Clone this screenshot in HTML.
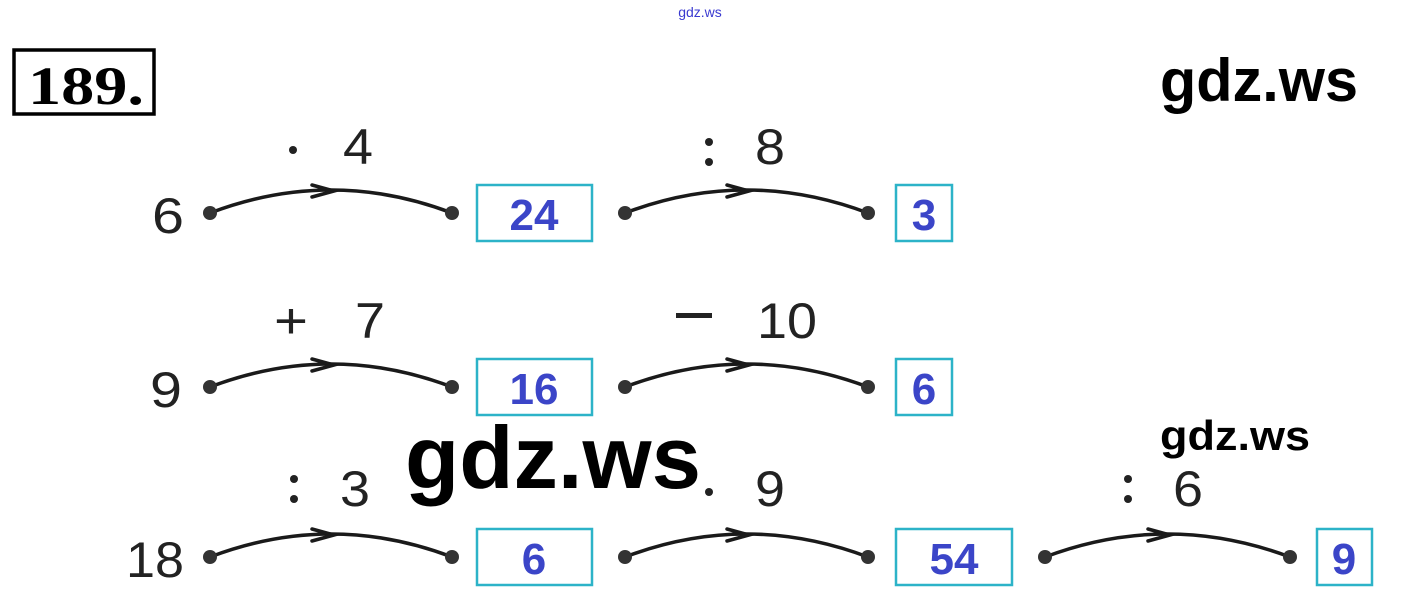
<!DOCTYPE html>
<html><head><meta charset="utf-8"><style>
html,body{margin:0;padding:0;background:#fff;}
body{width:1401px;height:607px;overflow:hidden;position:relative;}
svg{position:absolute;left:0;top:0;}
</style></head><body>
<svg width="1401" height="607" viewBox="0 0 1401 607" xmlns="http://www.w3.org/2000/svg">
<rect x="0" y="0" width="1401" height="607" fill="#fff"/>
<text x="700" y="17" font-family="Liberation Sans, sans-serif" font-size="14" fill="#3a3ad0" text-anchor="middle">gdz.ws</text>
<rect x="14" y="50" width="140" height="64" fill="#fff" stroke="#000" stroke-width="3.5"/>
<text x="28" y="104" font-family="Liberation Serif, serif" font-size="54" font-weight="bold" fill="#000" textLength="116" lengthAdjust="spacingAndGlyphs">189.</text>

<g font-family="Liberation Sans Narrow, Liberation Sans, sans-serif" font-size="50" fill="#222">
<text x="152" y="233" textLength="32" lengthAdjust="spacingAndGlyphs">6</text>
<circle cx="293" cy="150" r="4" fill="#222"/>
<text x="343" y="164" textLength="30" lengthAdjust="spacingAndGlyphs">4</text>
<circle cx="709" cy="142" r="4" fill="#222"/><circle cx="709" cy="162" r="4" fill="#222"/>
<text x="755" y="164" textLength="30" lengthAdjust="spacingAndGlyphs">8</text>
<text x="150" y="407" textLength="32" lengthAdjust="spacingAndGlyphs">9</text>
<text x="274" y="338" textLength="34" lengthAdjust="spacingAndGlyphs">+</text>
<text x="355" y="338" textLength="30" lengthAdjust="spacingAndGlyphs">7</text>
<rect x="676" y="313" width="36" height="5" fill="#222"/>
<text x="757" y="338" textLength="60" lengthAdjust="spacingAndGlyphs">10</text>
<text x="126" y="577" textLength="58" lengthAdjust="spacingAndGlyphs">18</text>
<circle cx="294" cy="479" r="4" fill="#222"/><circle cx="294" cy="499" r="4" fill="#222"/>
<text x="340" y="506" textLength="30" lengthAdjust="spacingAndGlyphs">3</text>
<circle cx="709" cy="492" r="4" fill="#222"/>
<text x="755" y="506" textLength="30" lengthAdjust="spacingAndGlyphs">9</text>
<circle cx="1128" cy="479" r="4" fill="#222"/><circle cx="1128" cy="499" r="4" fill="#222"/>
<text x="1173" y="506" textLength="30" lengthAdjust="spacingAndGlyphs">6</text>
</g>

<g stroke="#1a1a1a" stroke-width="3.5" fill="none" stroke-linecap="round">
<path d="M210 213 Q331 167 452 213"/><path d="M312 185 L334 191 L312 197"/>
<path d="M625 213 Q746 167 868 213"/><path d="M727 185 L749 191 L727 197"/>
<path d="M210 387 Q331 341 452 387"/><path d="M312 359 L334 365 L312 371"/>
<path d="M625 387 Q746 341 868 387"/><path d="M727 359 L749 365 L727 371"/>
<path d="M210 557 Q331 511 452 557"/><path d="M312 529 L334 535 L312 541"/>
<path d="M625 557 Q746 511 868 557"/><path d="M727 529 L749 535 L727 541"/>
<path d="M1045 557 Q1167 511 1290 557"/><path d="M1148 529 L1170 535 L1148 541"/>
</g>
<g fill="#333">
<circle cx="210" cy="213" r="7"/><circle cx="452" cy="213" r="7"/>
<circle cx="625" cy="213" r="7"/><circle cx="868" cy="213" r="7"/>
<circle cx="210" cy="387" r="7"/><circle cx="452" cy="387" r="7"/>
<circle cx="625" cy="387" r="7"/><circle cx="868" cy="387" r="7"/>
<circle cx="210" cy="557" r="7"/><circle cx="452" cy="557" r="7"/>
<circle cx="625" cy="557" r="7"/><circle cx="868" cy="557" r="7"/>
<circle cx="1045" cy="557" r="7"/><circle cx="1290" cy="557" r="7"/>
</g>

<g fill="#fff" stroke="#2cb3c8" stroke-width="2.5">
<rect x="477" y="185" width="115" height="56"/>
<rect x="896" y="185" width="56" height="56"/>
<rect x="477" y="359" width="115" height="56"/>
<rect x="896" y="359" width="56" height="56"/>
<rect x="477" y="529" width="115" height="56"/>
<rect x="896" y="529" width="116" height="56"/>
<rect x="1317" y="529" width="55" height="56"/>
</g>
<g font-family="Liberation Sans, sans-serif" font-weight="bold" font-size="44" fill="#3b45c8" text-anchor="middle">
<text x="534" y="230">24</text>
<text x="924" y="230">3</text>
<text x="534" y="404">16</text>
<text x="924" y="404">6</text>
<text x="534" y="574">6</text>
<text x="954" y="574">54</text>
<text x="1344" y="574">9</text>
</g>

<g font-family="Liberation Sans, sans-serif" font-weight="bold" fill="#000">
<text x="1160" y="101" font-size="60" textLength="198" lengthAdjust="spacingAndGlyphs">gdz.ws</text>
<text x="1160" y="450" font-size="42" textLength="150" lengthAdjust="spacingAndGlyphs">gdz.ws</text>
<text x="405" y="488" font-size="88" textLength="296" lengthAdjust="spacingAndGlyphs">gdz.ws</text>
</g>
</svg>
</body></html>
